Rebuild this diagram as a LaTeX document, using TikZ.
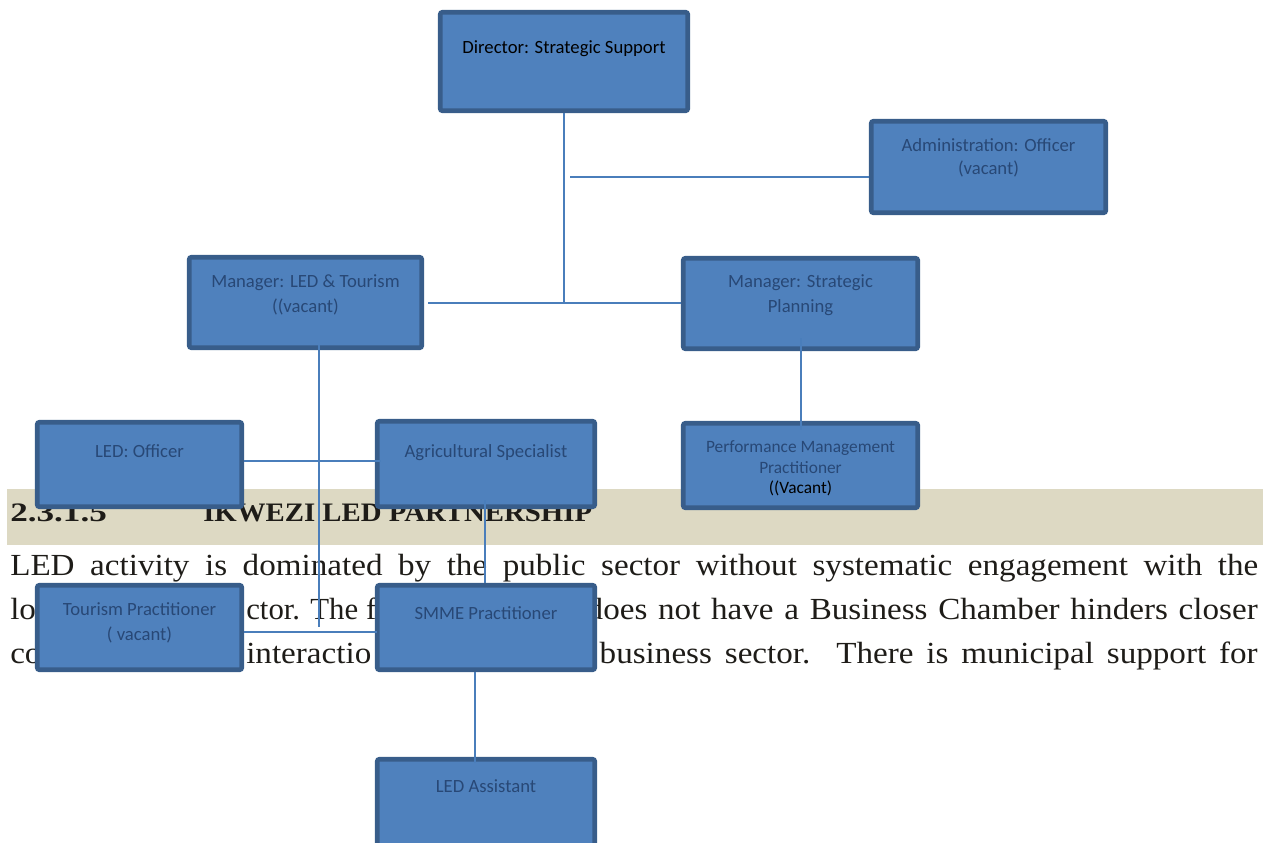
\documentclass[tikz,border=0pt]{standalone}
\usepackage{fontspec}
\setmainfont{Liberation Serif}[FakeStretch=1.08]
\newfontfamily\boxfont{Carlito}
\usetikzlibrary{calc}
\newdimen\pxu \pxu=0.75pt
\definecolor{boxfill}{RGB}{79,129,189}
\definecolor{boxline}{RGB}{56,93,138}
\definecolor{boxtext}{RGB}{40,72,118}
\definecolor{wire}{RGB}{74,126,187}
\definecolor{band}{RGB}{221,217,195}
\definecolor{ink}{RGB}{30,28,24}
\tikzset{
  orgbox/.style 2 args={draw=boxline, fill=boxfill, line width=3.4pt,
    rounded corners=1.5pt, inner sep=0pt,
    minimum width={(#1-4.5)*0.75pt}, minimum height={(#2-4.5)*0.75pt}},
  boxlabel/.style={anchor=base, inner sep=0pt, text=boxtext,
    font=\boxfont\fontsize{14pt}{17pt}\selectfont},
  smalllabel/.style={boxlabel, font=\boxfont\fontsize{13pt}{16pt}\selectfont},
  wire/.style={draw=wire, line width=1.5pt},
  bodytext/.style={anchor=base west, inner sep=0pt, text=ink,
    font=\fontsize{23pt}{28pt}\selectfont},
  headtext/.style={anchor=base west, inner sep=0pt, text=ink,
    font=\bfseries\fontsize{20pt}{24pt}\selectfont},
}
\begin{document}
\begin{tikzpicture}[x=0.75pt, y=-0.75pt]
\useasboundingbox (0,0) rectangle (1270,842);
\clip (0,0) rectangle (1270,842);

% section heading band and its title
\fill[band] (7,489) rectangle (1263,545);
\node[headtext] (secnum) at (10,521) {\scalebox{1.22}[1]{2.3.1.5}};
\node[headtext] (sectitle) at (203,521) {IKWEZI LED PARTNERSHIP};

% body paragraph
\node[bodytext] (para1) at (10,575)
  {\makebox[1248\pxu][s]{LED activity is dominated by the public sector without systematic engagement with the}};
\node[bodytext] (para2a) at (10,619) {lo};
\node[bodytext] (para2b) at (246,619) {\scalebox{0.93}[1]{ctor. The f}};
\node[bodytext, anchor=base east] (para2c) at (1258,619)
  {\makebox[671\pxu][s]{does not have a Business Chamber hinders closer}};
\node[bodytext] (para3a) at (10,663) {co};
\node[bodytext] (para3b) at (246,663) {interactio};
\node[bodytext, anchor=base east] (para3c) at (1258,663)
  {\makebox[658\pxu][s]{business sector.\ \ There is municipal support for}};

% organisation boxes
\node[orgbox={252}{103}] (dir)  at (564,61.5) {};
\node[orgbox={239}{96}]  (adm)  at (988.5,167) {};
\node[orgbox={237}{95}]  (mled) at (305.5,302.5) {};
\node[orgbox={239}{95}]  (mstr) at (800.5,303.5) {};
\node[orgbox={209}{89}]  (ledo) at (139.5,464.5) {};
\node[orgbox={222}{90}]  (agri) at (486,464) {};
\node[orgbox={239}{89}]  (perf) at (800.5,465.5) {};
\node[orgbox={209}{89}]  (tour) at (139.5,627.5) {};
\node[orgbox={222}{89}]  (smme) at (486,627.5) {};
\node[orgbox={222}{103}] (asst) at (486,808.5) {};

% connectors
\coordinate (admtap) at (570,177);
\coordinate (tourbus) at ([shift={(0,4.5)}]tour.east);
\draw[wire] (dir.south) -- (dir.south |- mled.east);
\draw[wire] (admtap) -- (admtap -| adm.west);
\draw[wire, shorten <=3pt] (mled.east) -- (mled.east -| mstr.west);
\draw[wire] ([shift={(0,-13)}]mstr.south) -- ([shift={(0,9)}]mstr.south |- perf.north);
\draw[wire] ([shift={(13.5,-5)}]mled.south) -- ([shift={(13.5,-5)}]mled.south |- tourbus);
\draw[wire] (tourbus) -- ([shift={(2,0)}]tourbus -| smme.west);
\draw[wire] ([shift={(0,-3.5)}]ledo.east) -- ([shift={(6,-3.5)}]ledo.east -| agri.west);
\draw[wire] ([shift={(-1,-9)}]agri.south) -- ([shift={(-1,0)}]agri.south |- smme.north);
\draw[wire] ([shift={(-11,0)}]smme.south) -- ([shift={(-11,6)}]smme.south |- asst.north);

% box captions
\node[boxlabel, text=black] (dirlbl) at (564,54) {Director: Strategic Support};
\node[boxlabel] (admlbl1) at (988.5,151) {Administration: Officer};
\node[boxlabel] (admlbl2) at (988.5,174) {(vacant)};
\node[boxlabel] (mledlbl1) at (305.5,287) {Manager: LED \& Tourism};
\node[boxlabel] (mledlbl2) at (305.5,312) {((vacant)};
\node[boxlabel] (mstrlbl1) at (800.5,287) {Manager: Strategic};
\node[boxlabel] (mstrlbl2) at (800.5,312) {Planning};
\node[boxlabel] (ledolbl) at (139.5,457) {LED: Officer};
\node[boxlabel] (agrilbl) at (486,457) {Agricultural Specialist};
\node[smalllabel] (perflbl1) at (800.5,452) {Performance Management};
\node[smalllabel] (perflbl2) at (800.5,473) {Practitioner};
\node[smalllabel, text=black] (perflbl3) at (800.5,493) {((Vacant)};
\node[boxlabel] (tourlbl1) at (139.5,615) {Tourism Practitioner};
\node[boxlabel] (tourlbl2) at (139.5,640) {( vacant)};
\node[boxlabel] (smmelbl) at (486,619) {SMME Practitioner};
\node[boxlabel] (asstlbl) at (486,792) {LED Assistant};
\end{tikzpicture}
\end{document}
